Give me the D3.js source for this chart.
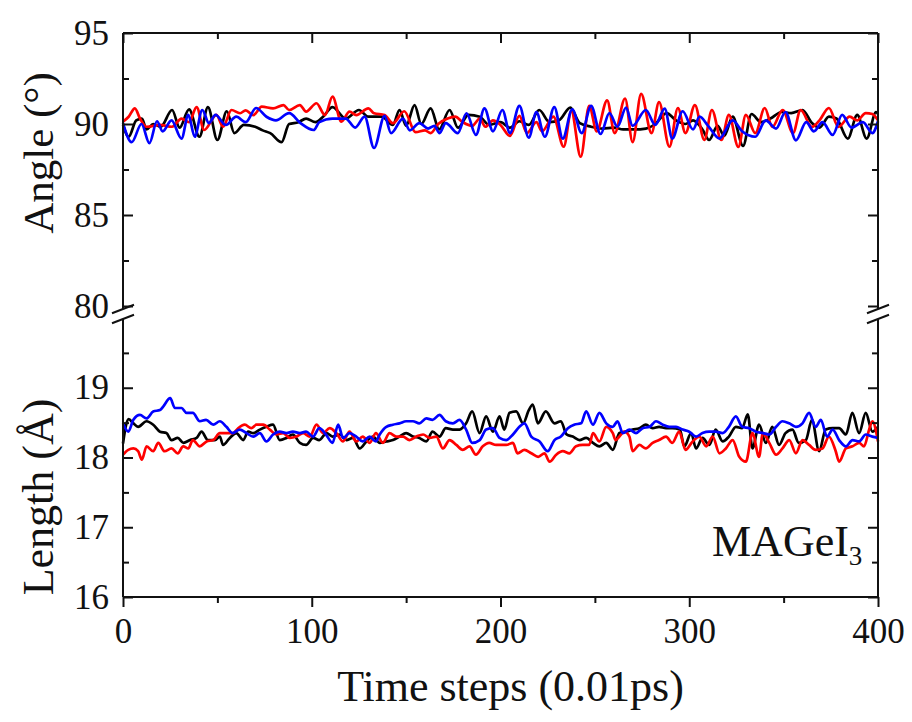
<!DOCTYPE html>
<html>
<head>
<meta charset="utf-8">
<script src="https://cdn.jsdelivr.net/npm/d3@7"></script>
<style>
  body { margin: 0; background: #fff; }
  svg text { font-family: "Liberation Serif", "Times New Roman", serif; fill: #111; }
</style>
</head>
<body>
<div id="chart"></div>
<script>
// Chart size and panel edges (pixels)
const width = 912;
const height = 722;
const plot = {left: 123, right: 878};
const topPanel = {top: 33, bottom: 306};
const botPanel = {top: 318, bottom: 597};

// x axis ticks
const xMajor = [0, 100, 200, 300, 400];
const xMinor = [50, 150, 250, 350];

// angle panel ticks
const angleMajor = [80, 85, 90, 95];
const angleMinor = [82.5, 87.5, 92.5];

// length panel ticks
const lengthMajor = [16, 17, 18, 19];
const lengthMinor = [16.5, 17.5, 18.5, 19.5];

// Angle traces, [time step, angle]
const angleBlack = [[0,89.95],[3,89.3],[7,90.2],[10,90.3],[12.5,89.7],[16,90.0],[20,89.85],[26,90.77],[30,89.8],[35,90.8],[40.5,89.3],[45,90.93],[50,89.12],[55,90.7],[59,89.5],[64,89.95],[70,89.85],[74,89.65],[78,89.5],[84,89.0],[88,90.0],[93,90.1],[97,90.3],[102,90.1],[106,90.4],[111,90.93],[118,90.3],[125,90.77],[130,90.4],[137,90.4],[143,89.95],[146.5,90.77],[150,89.9],[154.5,91.04],[158,90.0],[163,90.86],[167.5,89.7],[173,90.77],[177.5,89.8],[183,90.5],[189,90.4],[194,89.95],[200,90.1],[205,89.8],[210,90.15],[215,89.95],[220.5,90.77],[226,90.1],[231,90.2],[237,90.9],[242,90.05],[248,89.85],[254,89.75],[260,89.8],[265,89.7],[271,89.7],[277,89.75],[282,90.0],[288,90.6],[293,90.2],[298,90.0],[302,90.2],[307,89.7],[310.5,89.12],[315,89.9],[318.5,89.35],[323,90.4],[328.5,88.8],[333,90.55],[338,90.1],[343,90.3],[349,90.66],[354,90.6],[360,90.77],[365,90.05],[369,89.8],[374,90.4],[378,90.3],[384,89.2],[389,90.5],[394,89.2],[399,90.66],[400,90.55]];

const angleRed = [[0,90.13],[3,90.4],[6.3,90.86],[9,90.3],[12.5,89.85],[19.6,89.95],[26,89.85],[31,90.3],[35,90.1],[39,90.93],[43,89.67],[49.5,90.5],[53,89.85],[57.5,90.77],[62,90.59],[65,90.75],[69,90.49],[73.5,90.95],[79.5,90.86],[85,91.04],[88,90.77],[93.7,91.04],[97,90.68],[102.5,91.14],[107,90.49],[111,91.5],[115.7,90.13],[120,90.68],[123.6,90.49],[130,90.86],[133,90.59],[138.6,90.49],[143,90.04],[149,90.7],[155,89.55],[160,89.65],[163,89.5],[167,90.0],[172,90.3],[176,90.4],[180,90.1],[185,89.9],[189,90.3],[192,89.85],[196,90.2],[200,89.95],[205,89.35],[210,90.45],[214,89.5],[219,90.1],[222,89.6],[228,90.4],[233.5,88.75],[237.5,90.7],[242.5,88.2],[247,91.0],[251,89.6],[256.5,91.3],[260.5,89.5],[266,91.4],[270,89.0],[274.5,91.65],[280,89.5],[284,91.2],[289.5,88.75],[294,90.88],[298,89.5],[303,91.04],[308,89.12],[312,90.77],[317,89.12],[321,90.5],[326,88.74],[330,90.5],[335,89.5],[340,90.88],[344,89.84],[349.5,90.77],[355,89.5],[359,90.77],[365,89.84],[369,90.2],[374,90.88],[379,89.84],[385,90.4],[389,90.2],[393.5,90.6],[397,90.55],[400,90.2]];

const angleBlue = [[0,90.05],[4.6,89.0],[9.8,90.0],[14,88.95],[18,90.15],[21,89.6],[25.7,90.2],[31,89.2],[34.6,90.5],[38,89.3],[42,90.77],[45.5,90.05],[49,90.5],[54.5,89.95],[60,90.4],[65,90.1],[70.5,90.88],[76,90.4],[81,90.2],[88,90.6],[94,90.05],[101,89.67],[104,90.1],[111,90.3],[118,90.3],[123,89.8],[128,90.4],[133,88.68],[138.6,90.45],[142,89.5],[148.3,90.3],[152,89.65],[157,90.05],[161.6,89.75],[165,89.9],[167.7,89.5],[171,90.05],[177.4,89.5],[182,90.59],[187,89.4],[191.5,90.86],[196,89.6],[201,90.77],[205,89.5],[210,91.0],[215,89.25],[219,90.65],[223.5,89.3],[228.5,90.93],[233,89.2],[238,90.8],[243,89.5],[248,91.0],[253,89.45],[257.7,90.6],[262,89.85],[266.5,90.9],[270,89.9],[277,90.77],[282,89.95],[287,90.85],[291,89.2],[296.5,90.7],[302,89.7],[305.5,90.4],[310,89.9],[316,89.2],[323,90.2],[328,89.6],[335,89.3],[340.5,90.2],[346,89.75],[351,90.66],[356.5,89.1],[362,90.1],[366,89.6],[370.6,90.1],[376,89.4],[381,90.5],[386,89.8],[392,90.1],[397,89.5],[400,90.15]];

// Length traces, [time step, length]
const lengthBlack = [[0,18.2],[1.5,18.45],[3,18.55],[5.5,18.49],[8,18.44],[12.5,18.52],[16,18.47],[19.6,18.37],[23,18.35],[25.7,18.25],[29,18.28],[32,18.21],[35.5,18.25],[39,18.28],[41.6,18.37],[45,18.25],[48.7,18.25],[51.3,18.3],[53,18.18],[56.6,18.28],[60,18.35],[63.7,18.25],[66.3,18.37],[69,18.35],[72.5,18.4],[76,18.44],[79.5,18.47],[83,18.25],[86.6,18.28],[90,18.33],[93.7,18.21],[97,18.18],[100.7,18.28],[104,18.25],[107.8,18.35],[111,18.3],[114.8,18.33],[118.3,18.25],[121.9,18.28],[125.4,18.13],[129,18.23],[132.5,18.3],[136,18.21],[139.5,18.23],[143,18.25],[146.5,18.3],[150,18.35],[153.6,18.3],[157,18.28],[160.7,18.23],[164,18.37],[167.7,18.3],[171,18.42],[174.8,18.4],[178.3,18.4],[181.8,18.49],[185,18.66],[188.9,18.35],[192.4,18.59],[196,18.37],[199.5,18.59],[202,18.4],[204.8,18.64],[208.3,18.66],[212,18.49],[215,18.68],[217.1,18.76],[219.8,18.49],[224,18.66],[228.6,18.49],[232,18.52],[235,18.33],[238.3,18.3],[241.8,18.25],[245.4,18.28],[249,18.21],[252.4,18.16],[256,18.21],[259.5,18.11],[263,18.35],[266.5,18.37],[270,18.4],[273.6,18.42],[277,18.47],[280.6,18.42],[284,18.44],[287.7,18.42],[291,18.42],[295,18.4],[297.4,18.16],[301,18.35],[303.6,18.13],[307,18.28],[310.6,18.18],[314,18.4],[317.7,18.23],[321,18.3],[324.7,18.44],[328,18.42],[331,18.62],[333.5,18.13],[337,18.47],[340.6,18.21],[344,18.44],[347.6,18.18],[351,18.35],[354.7,18.4],[358,18.21],[361.8,18.25],[365,18.54],[368.8,18.09],[372.3,18.4],[376,18.42],[379.4,18.42],[383,18.33],[386.4,18.64],[390,18.35],[393.5,18.64],[397,18.37],[400,18.44]];

const lengthRed = [[0,18.04],[2.8,18.11],[5.5,18.13],[8,18.09],[10,17.97],[12.5,18.16],[16,18.09],[18.7,18.21],[22,18.09],[25.7,18.13],[29,18.06],[31.9,18.16],[34.6,18.13],[37,18.25],[40.7,18.16],[44.3,18.23],[47.8,18.25],[51.3,18.35],[54.8,18.35],[58.4,18.35],[61,18.42],[64.5,18.47],[68,18.42],[70.7,18.47],[74.3,18.47],[77.8,18.4],[81.3,18.33],[84.8,18.35],[88.4,18.28],[91.9,18.3],[95.4,18.35],[99,18.3],[102.5,18.47],[106,18.35],[109.5,18.42],[113,18.35],[116.6,18.23],[120,18.37],[123.6,18.23],[127,18.3],[130.7,18.21],[134,18.35],[137.7,18.21],[141.2,18.35],[144.8,18.3],[148.3,18.3],[151.8,18.25],[155.4,18.3],[159,18.33],[162.5,18.28],[166,18.3],[169.5,18.13],[173,18.25],[176.6,18.18],[180,18.11],[183.6,18.16],[187,18.04],[190.6,18.16],[194,18.21],[197.7,18.18],[199.5,18.18],[203,18.18],[206.6,18.21],[209,18.06],[212.7,18.11],[216.3,18.06],[220,18.01],[223.3,18.06],[226,17.94],[229.5,18.04],[233,18.09],[236.5,18.06],[240,18.16],[243.6,18.18],[247,18.18],[249,18.35],[252.4,18.23],[256,18.44],[259.5,18.35],[261,18.25],[263,18.3],[265.6,18.37],[268.3,18.3],[270,18.09],[273.6,18.18],[277,18.13],[280.6,18.21],[284,18.25],[287.7,18.3],[291,18.21],[294.7,18.37],[298,18.11],[301.8,18.23],[305.3,18.3],[309,18.16],[312.4,18.3],[316,18.06],[319.4,18.13],[323,18.25],[326.5,18.01],[330,17.94],[333.5,18.35],[337,18.01],[339,18.35],[342.4,18.21],[346,18.04],[349.4,18.13],[353,18.25],[356.5,18.06],[360,18.25],[363.5,18.18],[367,18.11],[370.6,18.13],[374,18.3],[377.6,18.09],[379.4,17.94],[383,18.13],[386.5,18.16],[390,18.21],[392.6,18.16],[395.3,18.4],[397,18.52],[400,18.23]];

const lengthBlue = [[0,18.49],[2.8,18.37],[5.5,18.54],[9,18.61],[12.5,18.56],[16,18.66],[19.6,18.68],[21.3,18.73],[25,18.85],[27.5,18.71],[31,18.71],[33.7,18.64],[37,18.64],[40.7,18.52],[44,18.54],[47.8,18.47],[51.3,18.52],[54.8,18.44],[58,18.35],[61.9,18.4],[65.4,18.35],[69,18.3],[72.5,18.35],[76,18.23],[79.5,18.33],[83,18.37],[86.6,18.35],[90,18.37],[93.7,18.35],[97,18.37],[100.7,18.3],[104,18.42],[107.5,18.33],[111,18.21],[114,18.47],[116.6,18.28],[120,18.35],[123.6,18.3],[127,18.23],[130.7,18.3],[134,18.23],[136,18.33],[139.5,18.44],[143,18.47],[146.5,18.49],[150,18.52],[153.6,18.52],[157,18.49],[160.7,18.56],[164,18.54],[167.7,18.61],[171,18.52],[174.8,18.49],[178.3,18.54],[181.8,18.4],[185,18.21],[189,18.25],[192.4,18.4],[196,18.42],[199.5,18.28],[203,18.25],[206.6,18.33],[210,18.44],[212.7,18.49],[216.3,18.3],[220.7,18.23],[225,18.09],[228.6,18.25],[232,18.3],[235.7,18.42],[239,18.47],[242.7,18.49],[245.4,18.66],[249,18.47],[252.4,18.64],[256,18.49],[259.5,18.44],[262,18.52],[264.8,18.35],[268.3,18.4],[271.8,18.35],[275.3,18.42],[279,18.44],[282.4,18.52],[286,18.47],[289.4,18.44],[293,18.44],[296.5,18.4],[300,18.37],[303.6,18.3],[307,18.35],[310.6,18.37],[314,18.37],[317.7,18.35],[321,18.44],[324.7,18.59],[328,18.44],[331.8,18.42],[335.3,18.37],[339,18.35],[342.4,18.33],[346,18.44],[349.4,18.52],[353,18.49],[356.5,18.44],[360,18.49],[363.5,18.64],[367,18.44],[369.7,18.54],[373,18.3],[376,18.4],[379.4,18.25],[383,18.16],[386.5,18.25],[390,18.23],[393.5,18.33],[397,18.3],[400,18.28]];

const svg = d3.select("#chart")
  .append("svg")
  .attr("width", width)
  .attr("height", height);

// scales
const xScale = d3.scaleLinear().domain([0, 400]).range([plot.left, plot.right]);
const yAngle = d3.scaleLinear().domain([80, 95]).range([topPanel.bottom, topPanel.top]);
const yLength = d3.scaleLinear().domain([16, 20]).range([botPanel.bottom, botPanel.top]);

// helper to style an axis group
function styleAxis(g) {
  g.select(".domain").remove();
  g.selectAll(".tick line").attr("stroke", "#111").attr("stroke-width", 2);
  g.selectAll(".tick text").attr("font-size", "35px")
    .attr("font-family", "Liberation Serif, Times New Roman, serif").attr("fill", "#111");
}

/* data lines */
const curveLine = (yScale) => d3.line()
  .x(d => xScale(d[0]))
  .y(d => yScale(d[1]))
  .curve(d3.curveMonotoneX);

const traces = [
  {data: angleBlack, y: yAngle, color: "#000000"},
  {data: angleRed, y: yAngle, color: "#ff0000"},
  {data: angleBlue, y: yAngle, color: "#0000ff"},
  {data: lengthBlack, y: yLength, color: "#000000"},
  {data: lengthRed, y: yLength, color: "#ff0000"},
  {data: lengthBlue, y: yLength, color: "#0000ff"}
];

traces.forEach(t => {
  svg.append("path")
    .datum(t.data)
    .attr("fill", "none")
    .attr("stroke", t.color)
    .attr("stroke-width", 2.7)
    .attr("stroke-linejoin", "round")
    .attr("d", curveLine(t.y));
});

/* frame lines */
const frame = svg.append("g").attr("stroke", "#111").attr("stroke-width", 2).attr("fill", "none");
// top edge and bottom edge
frame.append("line").attr("x1", plot.left).attr("x2", plot.right).attr("y1", topPanel.top).attr("y2", topPanel.top);
frame.append("line").attr("x1", plot.left).attr("x2", plot.right).attr("y1", botPanel.bottom).attr("y2", botPanel.bottom);
// left and right edges, broken between the panels
[plot.left, plot.right].forEach(xp => {
  frame.append("line").attr("x1", xp).attr("x2", xp).attr("y1", topPanel.top).attr("y2", topPanel.bottom + 3);
  frame.append("line").attr("x1", xp).attr("x2", xp).attr("y1", botPanel.top + 1).attr("y2", botPanel.bottom);
  // break marks
  [309, 319].forEach(yc => {
    frame.append("line")
      .attr("x1", xp - 11).attr("y1", yc + 4.2)
      .attr("x2", xp + 11).attr("y2", yc - 4.2);
  });
});

/* axes */
// left, angle
svg.append("g").attr("transform", `translate(${plot.left},0)`)
  .call(d3.axisLeft(yAngle).tickValues(angleMajor).tickSize(-10).tickPadding(14).tickFormat(d3.format("d")))
  .call(styleAxis);
svg.append("g").attr("transform", `translate(${plot.left},0)`)
  .call(d3.axisLeft(yAngle).tickValues(angleMinor).tickSize(-6).tickFormat(""))
  .call(styleAxis);
// right, angle
svg.append("g").attr("transform", `translate(${plot.right},0)`)
  .call(d3.axisRight(yAngle).tickValues(angleMajor).tickSize(-10).tickFormat(""))
  .call(styleAxis);
svg.append("g").attr("transform", `translate(${plot.right},0)`)
  .call(d3.axisRight(yAngle).tickValues(angleMinor).tickSize(-6).tickFormat(""))
  .call(styleAxis);

// left, length
svg.append("g").attr("transform", `translate(${plot.left},0)`)
  .call(d3.axisLeft(yLength).tickValues(lengthMajor).tickSize(-10).tickPadding(14).tickFormat(d3.format("d")))
  .call(styleAxis);
svg.append("g").attr("transform", `translate(${plot.left},0)`)
  .call(d3.axisLeft(yLength).tickValues(lengthMinor).tickSize(-6).tickFormat(""))
  .call(styleAxis);
// right, length
svg.append("g").attr("transform", `translate(${plot.right},0)`)
  .call(d3.axisRight(yLength).tickValues(lengthMajor).tickSize(-10).tickFormat(""))
  .call(styleAxis);
svg.append("g").attr("transform", `translate(${plot.right},0)`)
  .call(d3.axisRight(yLength).tickValues(lengthMinor).tickSize(-6).tickFormat(""))
  .call(styleAxis);

// top x ticks (inward)
svg.append("g").attr("transform", `translate(0,${topPanel.top})`)
  .call(d3.axisTop(xScale).tickValues(xMajor).tickSize(-10).tickFormat(""))
  .call(styleAxis);
svg.append("g").attr("transform", `translate(0,${topPanel.top})`)
  .call(d3.axisTop(xScale).tickValues(xMinor).tickSize(-6).tickFormat(""))
  .call(styleAxis);

// bottom x ticks (outward) with labels
svg.append("g").attr("transform", `translate(0,${botPanel.bottom})`)
  .call(d3.axisBottom(xScale).tickValues(xMajor).tickSize(10).tickPadding(11).tickFormat(d3.format("d")))
  .call(styleAxis);
svg.append("g").attr("transform", `translate(0,${botPanel.bottom})`)
  .call(d3.axisBottom(xScale).tickValues(xMinor).tickSize(6).tickFormat(""))
  .call(styleAxis);

/* titles */
svg.append("text")
  .attr("transform", "translate(38,153) rotate(-90)")
  .attr("text-anchor", "middle")
  .attr("dominant-baseline", "central")
  .attr("font-size", "43px")
  .text("Angle (°)");

svg.append("text")
  .attr("transform", "translate(38,497) rotate(-90)")
  .attr("text-anchor", "middle")
  .attr("dominant-baseline", "central")
  .attr("font-size", "44px")
  .text("Length (Å)");

svg.append("text")
  .attr("x", (plot.left + plot.right) / 2 + 10)
  .attr("y", 701)
  .attr("text-anchor", "middle")
  .attr("font-size", "44px")
  .text("Time steps (0.01ps)");

// compound label
const label = svg.append("text")
  .attr("x", 712)
  .attr("y", 556)
  .attr("font-size", "44px");
label.append("tspan").text("MAGeI");
label.append("tspan").attr("font-size", "27px").attr("dy", 9).text("3");
</script>
</body>
</html>
